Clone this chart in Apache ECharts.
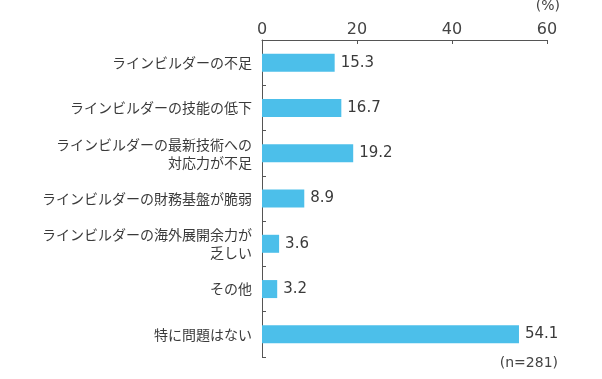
<!DOCTYPE html>
<html><head><meta charset="utf-8">
<script src="https://cdn.jsdelivr.net/npm/echarts@6/dist/echarts.min.js"></script>
<style>html,body{margin:0;padding:0;background:#fff}#c{width:602px;height:379px}</style>
</head><body><div id="c"></div>
<script>
const categories = [
  'ラインビルダーの不足',
  'ラインビルダーの技能の低下',
  'ラインビルダーの最新技術への\n対応力が不足',
  'ラインビルダーの財務基盤が脆弱',
  'ラインビルダーの海外展開余力が\n乏しい',
  'その他',
  '特に問題はない'
];
const values = [15.3, 16.7, 19.2, 8.9, 3.6, 3.2, 54.1];
const xTicks = [0, 20, 40, 60];
const unitLabel = '(%)';
const nLabel = '(n=281)';

const font = '"Noto Sans CJK JP", "Noto Sans", sans-serif';
const numFont = '"DejaVu Sans", sans-serif';
const chart = echarts.init(document.getElementById('c'));
chart.setOption({
  animation: false,
  grid: {left: 262, right: 55, top: 40, bottom: 22},
  xAxis: {
    type: 'value', position: 'top', min: xTicks[0], max: xTicks[xTicks.length-1], interval: 20,
    axisLine: {show: true, lineStyle: {color: '#555', width: 1}},
    axisTick: {show: true, inside: true, length: 4, lineStyle: {color: '#555'}},
    splitLine: {show: false},
    axisLabel: {fontSize: 16, color: '#444', margin: 2, fontFamily: numFont}
  },
  yAxis: {
    type: 'category', inverse: true, data: categories,
    axisLine: {show: true, lineStyle: {color: '#555', width: 1}},
    axisTick: {show: true, inside: true, length: 4, lineStyle: {color: '#555'}},
    axisLabel: {fontSize: 14, color: '#3a3a3a', margin: 10, lineHeight: 18, fontFamily: font, align: 'right'}
  },
  series: [{
    type: 'bar', data: values, barWidth: 18,
    itemStyle: {color: '#4cbfea'},
    label: {show: true, position: 'right', distance: 6, fontSize: 15, color: '#3a3a3a', fontFamily: numFont,
      formatter: p => p.value.toFixed(1)}
  }],
  graphic: [
    {type: 'text', right: 42, top: -1, style: {text: unitLabel, fontSize: 14, fill: '#444', fontFamily: numFont}},
    {type: 'text', right: 44, top: 356, style: {text: nLabel, fontSize: 14, fill: '#444', fontFamily: numFont}}
  ]
});
</script></body></html>
